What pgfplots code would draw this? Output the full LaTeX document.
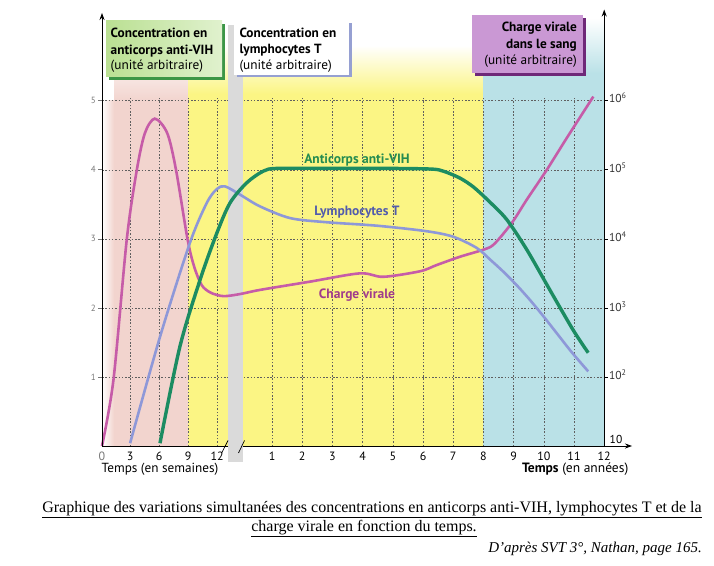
\documentclass[border=0pt]{standalone}
\usepackage{pgfplots}
\pgfplotsset{compat=1.18}
\usetikzlibrary{arrows.meta}
\usepackage{fontspec}
\setmainfont{PT Sans}
\newfontfamily\capfont{Liberation Serif}
\definecolor{cpink}{RGB}{198,92,168}
\definecolor{cblue}{RGB}{142,152,216}
\definecolor{cgreen}{RGB}{28,140,98}
\definecolor{bgpink}{RGB}{242,212,206}
\definecolor{bgyellow}{RGB}{251,245,132}
\definecolor{bgblue}{RGB}{186,225,231}
\definecolor{bggray}{RGB}{218,218,218}
\definecolor{gridc}{RGB}{95,95,95}
\definecolor{boxgreen}{RGB}{186,224,146}
\definecolor{boxgreenD}{RGB}{60,150,70}
\definecolor{boxpurple}{RGB}{202,152,212}
\definecolor{boxpurpleD}{RGB}{110,40,120}
\definecolor{boxblueD}{RGB}{150,160,210}
\definecolor{lgreen}{RGB}{36,140,80}
\definecolor{lblue}{RGB}{82,92,172}
\definecolor{lpink}{RGB}{160,60,140}
\definecolor{tickgray}{RGB}{120,120,120}

\pgfplotstableread{
x y
0 0
0.38 0.96
0.82 2.99
1.15 3.99
1.42 4.53
1.75 4.74
2.16 4.53
2.45 4.0
2.83 3.0
3.05 2.6
3.3 2.33
3.6 2.22
4.02 2.17
4.57 2.2
5.23 2.26
6.89 2.38
8.54 2.50
9.31 2.45
10.53 2.53
11.08 2.62
11.85 2.74
12.68 2.85
13.0 2.93
13.57 3.23
14.07 3.57
14.73 4.0
15.39 4.46
16.27 5.06
}\charge

\pgfplotstableread{
x y
0.93 0.04
1.92 1.58
2.91 2.94
3.47 3.52
3.8 3.72
4.07 3.76
4.57 3.64
5.23 3.47
6.23 3.30
7.44 3.24
9.1 3.19
10.75 3.11
11.63 3.03
12.4 2.87
12.85 2.70
13.3 2.52
13.75 2.32
14.2 2.10
14.65 1.86
15.1 1.61
15.55 1.36
16.1 1.08
}\lympho

\pgfplotstableread{
x y
1.92 0.04
2.58 1.44
3.25 2.41
3.8 3.08
4.24 3.52
4.79 3.81
5.34 3.98
5.8 4.02
7.5 4.02
9.5 4.02
10.9 4.01
11.3 3.98
11.85 3.88
12.3 3.75
12.8 3.55
13.4 3.28
14.07 2.84
14.83 2.26
15.6 1.68
16.1 1.35
}\anticorps

\begin{document}
\begin{tikzpicture}[x=1pt,y=1pt]
\path[use as bounding box] (0,0) rectangle (714,565);
\begin{axis}[
  at={(102pt,119pt)}, anchor=south west, scale only axis,
  width=530pt, height=433pt,
  xmin=0, xmax=17.55, ymin=0, ymax=6.27,
  clip=false, axis on top,
  axis lines=left,
  axis line style={line width=0.8pt, -{Stealth[length=7pt,width=5pt]}},
  xtick={0,0.93,1.89,2.85,3.81,5.63,6.63,7.63,8.63,9.63,10.63,11.63,12.63,13.63,14.63,15.63,16.63},
  xticklabels={{\color{tickgray}0},3,6,9,12,1,2,3,4,5,6,7,8,9,10,11,12},
  xtick style={draw=none},
  ytick={1,2,3,4,5},
  yticklabels={1,2,3,4,5},
  ytick style={line width=0.6pt, tickgray},
  tick align=outside, major tick length=4pt,
  xticklabel style={font=\fontsize{12}{13}\selectfont, inner sep=1.5pt},
  yticklabel style={font=\fontsize{9}{10}\selectfont, text=tickgray, inner sep=2pt},
]
% background zones
\fill[bgpink] (axis cs:0.4,0) rectangle (axis cs:2.85,5.0);
\shade[left color=white, right color=bgpink] (axis cs:0,0) rectangle (axis cs:0.4,5.0);
\shade[bottom color=bgpink, top color=white] (axis cs:0.4,5.0) rectangle (axis cs:2.85,5.8);
\fill[bgyellow] (axis cs:2.85,0) rectangle (axis cs:12.63,5.1);
\shade[bottom color=bgyellow, top color=white] (axis cs:2.85,5.1) rectangle (axis cs:12.63,5.8);
\fill[bgblue] (axis cs:12.63,0) rectangle (axis cs:16.63,5.4);
\shade[bottom color=bgblue, top color=white] (axis cs:12.63,5.4) rectangle (axis cs:16.63,6.2);
% grid
\pgfplotsinvokeforeach{0.93,1.89,2.85,3.81,5.63,6.63,7.63,8.63,9.63,10.63,11.63,12.63,13.63,14.63,15.63}{
  \draw[gridc, line width=0.5pt, dash pattern=on 1.5pt off 1.8pt] (axis cs:#1,0) -- (axis cs:#1,5.05);
}
\pgfplotsinvokeforeach{1,2,3,4,5}{
  \draw[gridc, line width=0.5pt, dash pattern=on 1.5pt off 1.8pt] (axis cs:0,#1) -- (axis cs:16.63,#1);
}
% break band
\fill[bggray] (axis cs:4.17,-0.23) rectangle (axis cs:4.67,6.1);
% curves
\addplot[cpink, line width=2.6pt, smooth, tension=0.5] table[x=x,y=y] {\charge};
\addplot[cblue, line width=2.6pt, smooth, tension=0.5] table[x=x,y=y] {\lympho};
\addplot[cgreen, line width=3.4pt, smooth, tension=0.5] table[x=x,y=y] {\anticorps};
% right axis
\draw[line width=0.8pt, -{Stealth[length=7pt,width=5pt]}] (axis cs:16.63,0) -- (axis cs:16.63,6.32);
\pgfplotsinvokeforeach{1,2,3,4,5}{
  \draw[line width=0.6pt] (axis cs:16.63,#1) -- ++(4pt,0);
}
\end{axis}
% axis break
\fill[bggray] (228,117.6) rectangle (242.6,120.4);
\draw[line width=0.7pt] (221.7,112) -- (228,124.5);
\draw[line width=0.7pt] (238.5,112) -- (244.5,124.5);
% right axis labels
\foreach \k/\py in {6/98,5/168,4/237,3/306.7,2/375}{
  \node[anchor=west, inner sep=0, font=\fontsize{11.5}{12}\selectfont, text=black!80] at (609,565-\py) {10\textsuperscript{\k}};
}
\node[inner sep=0, font=\fontsize{11.5}{12}\selectfont] at (616,126) {10};
% axis titles
\node[anchor=base west, inner sep=0, font=\fontsize{13.2}{15}\selectfont] at (101.5,93) {Temps (en semaines)};
\node[anchor=base east, inner sep=0, font=\fontsize{13.5}{15}\selectfont] at (628.5,93) {\textbf{Temps} (en années)};
% curve labels
\node[font=\bfseries\fontsize{13.5}{15}\selectfont, text=lgreen] at (357,405) {Anticorps anti-VIH};
\node[font=\bfseries\fontsize{13.5}{15}\selectfont, text=lblue] at (357,353) {Lymphocytes T};
\node[font=\bfseries\fontsize{13.5}{15}\selectfont, text=lpink] at (357,270) {Charge virale};
% legend box: anticorps
\fill[boxgreenD] (109,485) rectangle (225,541);
\shade[left color=boxgreen, right color=boxgreen!45!white] (106,488) rectangle (222,544);
\node[anchor=base west, inner sep=0, font=\bfseries\fontsize{13.3}{15}\selectfont] at (110.5,527) {Concentration en};
\node[anchor=base west, inner sep=0, font=\bfseries\fontsize{13.3}{15}\selectfont] at (110.5,510) {anticorps anti-VIH};
\node[anchor=base west, inner sep=0, font=\fontsize{13.3}{15}\selectfont] at (110.5,495) {(unité arbitraire)};
% legend box: lymphocytes
\fill[boxblueD] (237,488) rectangle (352,542);
\fill[white] (234,490) rectangle (349,545);
\node[anchor=base west, inner sep=0, font=\bfseries\fontsize{13.3}{15}\selectfont] at (239.3,527.5) {Concentration en};
\node[anchor=base west, inner sep=0, font=\bfseries\fontsize{13.3}{15}\selectfont] at (239.3,511.5) {lymphocytes T};
\node[anchor=base west, inner sep=0, font=\fontsize{13.3}{15}\selectfont] at (239.3,495.5) {(unité arbitraire)};
% legend box: charge virale
\fill[boxpurpleD] (475,489) rectangle (586,547);
\fill[boxpurple] (472,492) rectangle (583,550);
\node[anchor=base east, inner sep=0, font=\bfseries\fontsize{13.3}{15}\selectfont] at (577,533.3) {Charge virale};
\node[anchor=base east, inner sep=0, font=\bfseries\fontsize{13.3}{15}\selectfont] at (577,516.7) {dans le sang};
\node[anchor=base east, inner sep=0, font=\fontsize{13.3}{15}\selectfont] at (577,500) {(unité arbitraire)};
% caption
\node[anchor=base, inner sep=0, font=\capfont\fontsize{16}{19}\selectfont] at (372,53) {\underline{Graphique des variations simultanées des concentrations en anticorps anti-VIH, lymphocytes T et de la}};
\node[anchor=base, inner sep=0, font=\capfont\fontsize{16}{19}\selectfont] at (364,34) {\underline{charge virale en fonction du temps.}};
\node[anchor=base east, inner sep=0, font=\capfont\itshape\fontsize{15}{17}\selectfont] at (702,13) {D’après SVT 3°, Nathan, page 165.};
\end{tikzpicture}
\end{document}
